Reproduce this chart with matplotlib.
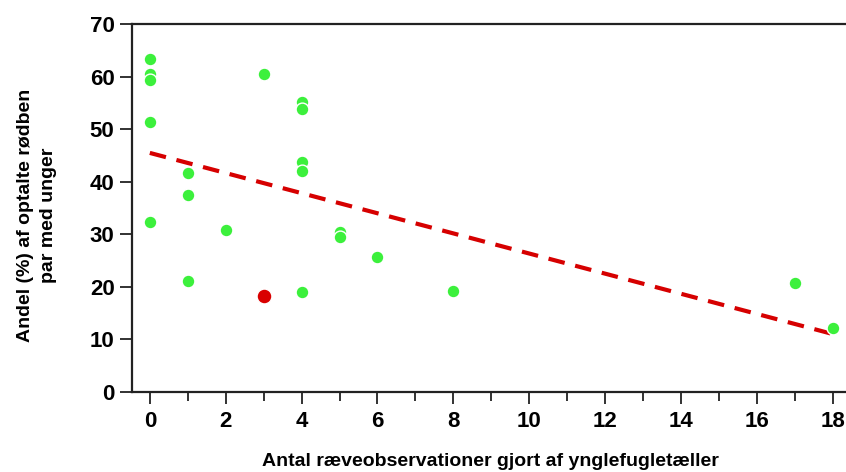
import numpy as np
import matplotlib
matplotlib.use("Agg")
import matplotlib.pyplot as plt
from matplotlib.ticker import MultipleLocator

# Data
green_x = [0, 0, 0, 0, 0, 1, 1, 1, 2, 3, 4, 4, 4, 4, 4, 5, 5, 6, 8, 17, 18]
green_y = [63.3, 60.4, 59.4, 51.4, 32.4, 41.6, 37.5, 21.2, 30.9, 60.4,
           55.2, 53.9, 43.8, 42.1, 19.0, 30.4, 29.4, 25.6, 19.2, 20.7, 12.2]
red_x = [3]
red_y = [18.3]

x_ticks = [0, 2, 4, 6, 8, 10, 12, 14, 16, 18]
y_ticks = [0, 10, 20, 30, 40, 50, 60, 70]

xlabel = "Antal ræveobservationer gjort af ynglefugletæller"
ylabel = "Andel (%) af optalte rødben\npar med unger"

W, H = 846, 472
fig = plt.figure(figsize=(W / 100, H / 100), dpi=100)
ax = fig.add_axes([132 / W, (H - 392) / H, (W - 132) / W, (392 - 24) / H])

font = "Liberation Sans"

# trend line from least squares fit on all points
all_x = np.array(green_x + red_x, dtype=float)
all_y = np.array(green_y + red_y, dtype=float)
slope, intercept = np.polyfit(all_x, all_y, 1)
lx = np.array([0, 18])
ax.plot(lx, intercept + slope * lx, color="#d60000", lw=3, dashes=(4, 2.6), zorder=2)

ax.scatter(green_x, green_y, s=85, color="#3cf03c", edgecolor="white", linewidth=1, zorder=3)
ax.scatter(red_x, red_y, s=115, color="#d90000", edgecolor="white", linewidth=1, zorder=3)

ax.set_xlim(-0.47, 18.35)
ax.set_ylim(0, 70)
ax.set_xticks(x_ticks)
ax.xaxis.set_minor_locator(MultipleLocator(1))
ax.set_yticks(y_ticks)

ax.spines["right"].set_visible(False)
for s in ["left", "bottom", "top"]:
    ax.spines[s].set_color("#222222")
    ax.spines[s].set_linewidth(1.6)

ax.tick_params(axis="both", which="major", direction="out", length=8.6, width=1.3, color="#222222")
ax.tick_params(axis="x", which="minor", direction="out", length=6.5, width=1.3, color="#222222")
ax.tick_params(axis="y", pad=4)
ax.tick_params(axis="x", pad=5)
for lab in ax.get_xticklabels() + ax.get_yticklabels():
    lab.set_fontfamily(font)
    lab.set_fontweight("bold")
    lab.set_fontsize(16)

fig.text(490 / W, 1 - 462 / H, xlabel, ha="center", va="center",
         family=font, fontweight="bold", fontsize=14)
fig.text(37 / W, 1 - 215 / H, ylabel, ha="center", va="center", rotation=90,
         family=font, fontweight="bold", fontsize=14, multialignment="center",
         linespacing=1.45)

fig.savefig("out.png", dpi=100)
